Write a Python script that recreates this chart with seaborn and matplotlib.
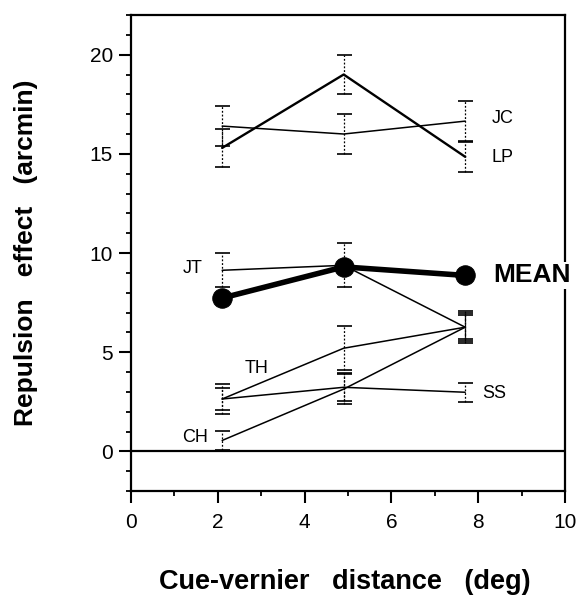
import numpy as np
import pandas as pd
import matplotlib
matplotlib.use("Agg")
import matplotlib.pyplot as plt
import seaborn as sns
from matplotlib.ticker import MultipleLocator

# ---- data ----
distances = [2.1, 4.9, 7.7]
subjects = ["JC", "LP", "JT", "TH", "SS", "CH"]
jc = [16.4, 16.0, 16.65]
lp = [15.3, 19.0, 14.85]
jt = [9.13, 9.38, 6.26]
th = [2.64, 5.2, 6.26]
ss = [2.64, 3.23, 2.98]
ch = [0.55, 3.14, 6.26]
jc_err = [1.0, 1.0, 1.0]
lp_err = [0.95, 1.0, 0.75]
jt_err = [0.85, 1.1, 0.8]
th_err = [0.75, 1.1, 0.7]
ss_err = [0.55, 0.7, 0.48]
ch_err = [0.5, 0.75, 0.6]
mean_vals = [7.73, 9.3, 8.87]

series = {"JC": jc, "LP": lp, "JT": jt, "TH": th, "SS": ss, "CH": ch}
errors = {"JC": jc_err, "LP": lp_err, "JT": jt_err, "TH": th_err, "SS": ss_err, "CH": ch_err}

rows = []
for s in subjects:
    for d, v in zip(distances, series[s]):
        rows.append({"subject": s, "distance": d, "effect": v})
df = pd.DataFrame(rows)
mean_df = pd.DataFrame({"distance": distances, "effect": mean_vals})

sns.set_style("ticks")
plt.rcParams["font.family"] = ["Liberation Sans", "DejaVu Sans"]
plt.rcParams["text.color"] = "black"
plt.rcParams["axes.labelcolor"] = "black"
plt.rcParams["xtick.color"] = "black"
plt.rcParams["ytick.color"] = "black"

fig = plt.figure(figsize=(5.81, 6.08), dpi=100)
ax = fig.add_axes([0.2255, 0.1924, 0.747, 0.7829])

widths = {"JC": 1.1, "LP": 1.7, "JT": 1.1, "TH": 1.1, "SS": 1.1, "CH": 1.1}
for s in subjects:
    sub = df[df.subject == s]
    sns.lineplot(data=sub, x="distance", y="effect", color="black",
                 linewidth=widths[s], ax=ax, legend=False)
    eb = ax.errorbar(distances, series[s], yerr=errors[s], fmt="none",
                     ecolor="black", elinewidth=0.9, capsize=5.4, capthick=1.2)
    for lc in eb[2]:
        lc.set_linestyle((0, (1.5, 1.5)))

sns.lineplot(data=mean_df, x="distance", y="effect", color="black",
             linewidth=4, marker="o", markersize=14, markeredgecolor="black",
             ax=ax, legend=False)

ax.axhline(0, color="black", linewidth=1.6)

# labels of subjects
lab_fs = 13
ax.text(8.3, 16.8, "JC", fontsize=lab_fs, va="center", ha="left", color="black")
ax.text(8.3, 14.8, "LP", fontsize=lab_fs, va="center", ha="left", color="black")
ax.text(1.2, 9.24, "JT", fontsize=lab_fs, va="center", ha="left", color="black")
ax.text(2.9, 4.2, "TH", fontsize=lab_fs, va="center", ha="center", color="black")
ax.text(8.1, 2.9, "SS", fontsize=lab_fs, va="center", ha="left", color="black")
ax.text(1.78, 0.7, "CH", fontsize=lab_fs, va="center", ha="right", color="black")
ax.text(8.34, 8.87, "MEAN", fontsize=19, fontweight="bold", va="center", ha="left",
        color="black", clip_on=False, zorder=5,
        bbox=dict(facecolor="white", edgecolor="none", pad=1.0))

ax.set_xlim(0, 10)
ax.set_ylim(-2, 22)
ax.set_xticks([0, 2, 4, 6, 8, 10])
ax.set_yticks([0, 5, 10, 15, 20])
ax.xaxis.set_minor_locator(MultipleLocator(1))
ax.yaxis.set_minor_locator(MultipleLocator(1))
ax.tick_params(axis="both", which="major", direction="out", length=8.5, width=1.5,
               labelsize=15, colors="black")
ax.tick_params(axis="x", which="major", pad=7)
ax.tick_params(axis="y", which="major", pad=4.5)
ax.tick_params(axis="both", which="minor", direction="out", length=3.6, width=1.3,
               colors="black")

for sp in ax.spines.values():
    sp.set_visible(True)
    sp.set_linewidth(1.6)
    sp.set_color("black")

ax.set_xlabel("Cue-vernier   distance   (deg)", fontsize=19.5, fontweight="bold",
              color="black")
ax.set_ylabel("Repulsion   effect   (arcmin)", fontsize=19, fontweight="bold",
              color="black")
ax.xaxis.set_label_coords(0.493, -0.163)
ax.yaxis.set_label_coords(-0.214, 0.50)

fig.savefig("out.png", dpi=100)
